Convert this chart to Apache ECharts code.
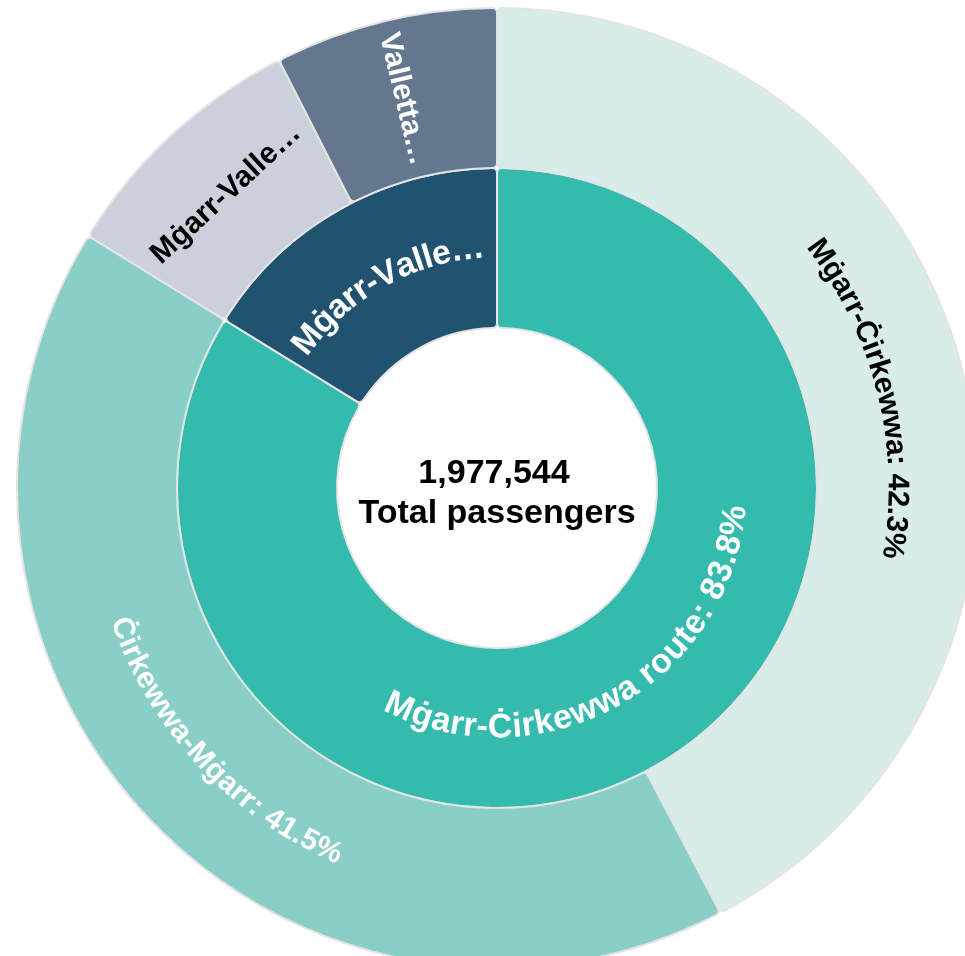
<!DOCTYPE html>
<html>
<head>
<meta charset="utf-8">
<script src="https://cdn.jsdelivr.net/npm/echarts@6/dist/echarts.min.js"></script>
<style>
html,body{margin:0;padding:0;background:#fff;}
#chart{width:965px;height:956px;}
</style>
</head>
<body>
<div id="chart"></div>
<script>
// ---- data ----
const routes = ['Mġarr-Ċirkewwa route', 'Mġarr-Valletta route'];
const routeColors = ['#35bbad', '#215270'];
const routeLabelColors = ['#ffffff', '#ffffff'];
const routeLabelMode = ['circular', 'circular'];
const routeShortLabel = [null, 'Mġarr-Valle…'];

const legs = ['Mġarr-Ċirkewwa', 'Ċirkewwa-Mġarr', 'Mġarr-Valletta', 'Valletta-Mġarr'];
const legRoute = [0, 0, 1, 1];
const legPassengers = [836501, 820681, 172046, 148316];
const legColors = ['#d8ecea', '#8acfc7', '#cbd0da', '#63778f'];
const legLabelColors = ['#000000', '#ffffff', '#000000', '#ffffff'];
const legLabelMode = ['circular', 'circular', 'perpendicular', 'parallel'];
const legShortLabel = [null, null, 'Mġarr-Valle…', 'Valletta…'];

const centerTitle = ['1,977,544', 'Total passengers'];

// ---- layout constants ----
const CX = 497, CY = 488;
const RINGS = [[160, 320], [320, 480]];
const FAMILY = '"Liberation Sans", Arial, sans-serif';
const RING_FONTS = ['bold 34px ' + FAMILY, 'bold 30px ' + FAMILY];
const CFONT = 'bold 34px ' + FAMILY;

const total = legPassengers.reduce((a, b) => a + b, 0);
const routeTotals = routes.map((r, i) =>
  legPassengers.reduce((s, v, j) => s + (legRoute[j] === i ? v : 0), 0));

const seriesData = routes.map((r, i) => ({
  name: r,
  itemStyle: { color: routeColors[i] },
  children: legs.map((l, j) => ({ l, j })).filter(o => legRoute[o.j] === i).map(o => ({
    name: o.l,
    value: legPassengers[o.j],
    itemStyle: { color: legColors[o.j] }
  }))
}));

// ---- text helpers ----
const ctx = document.createElement('canvas').getContext('2d');
function w(s, font) { ctx.font = font; return ctx.measureText(s).width; }
function pct(v) { return (v / total * 100).toFixed(1) + '%'; }

const graphics = [];
function txtEl(x, y, rot, text, color, font) {
  return {
    type: 'text', silent: true, z: 100, zlevel: 1,
    x: x, y: y, rotation: rot,
    style: { text: text, fill: color, font: font, align: 'center', verticalAlign: 'middle' }
  };
}
function addCircular(text, thetaMid, R, color, font) {
  const outward = Math.cos(thetaMid) > 0;
  const chars = Array.from(text);
  const widths = chars.map(c => w(c, font));
  const W = widths.reduce((a, b) => a + b, 0);
  let off = -W / 2;
  chars.forEach((ch, k) => {
    const s = off + widths[k] / 2;
    off += widths[k];
    const th = outward ? thetaMid + s / R : thetaMid - s / R;
    graphics.push(txtEl(CX + R * Math.sin(th), CY - R * Math.cos(th),
      outward ? -th : Math.PI - th, ch, color, font));
  });
}
function addStraight(text, thetaMid, R, color, mode, font) {
  let rot;
  if (mode === 'perpendicular') {
    rot = Math.cos(thetaMid) > 0 ? -thetaMid : Math.PI - thetaMid;
  } else {
    rot = 1.5 * Math.PI - thetaMid;
  }
  graphics.push(txtEl(CX + R * Math.sin(thetaMid), CY - R * Math.cos(thetaMid),
    rot, text, color, font));
}
function addLabel(text, mode, a0, a1, ring, color) {
  const mid = (a0 + a1) / 2;
  const R = (RINGS[ring][0] + RINGS[ring][1]) / 2;
  const font = RING_FONTS[ring];
  if (mode === 'circular') addCircular(text, mid, R, color, font);
  else addStraight(text, mid, R, color, mode, font);
}

// angles (clockwise from 12 o'clock) from the data
let acc = 0;
routes.forEach((r, i) => {
  const a0 = acc / total * 2 * Math.PI;
  const a1 = (acc + routeTotals[i]) / total * 2 * Math.PI;
  const txt = routeShortLabel[i] || (r + ': ' + pct(routeTotals[i]));
  addLabel(txt, routeLabelMode[i], a0, a1, 0, routeLabelColors[i]);
  let acc2 = acc;
  legs.forEach((l, j) => {
    if (legRoute[j] !== i) return;
    const b0 = acc2 / total * 2 * Math.PI;
    const b1 = (acc2 + legPassengers[j]) / total * 2 * Math.PI;
    const t2 = legShortLabel[j] || (l + ': ' + pct(legPassengers[j]));
    addLabel(t2, legLabelMode[j], b0, b1, 1, legLabelColors[j]);
    acc2 += legPassengers[j];
  });
  acc += routeTotals[i];
});

graphics.push(txtEl(CX - 3, CY - 14, 0, centerTitle[0], '#000', CFONT));
graphics.push(txtEl(CX, CY + 26, 0, centerTitle[1], '#000', CFONT));

const chart = echarts.init(document.getElementById('chart'));
chart.setOption({
  animation: false,
  series: [{
    type: 'sunburst',
    center: [CX, CY],
    sort: null,
    startAngle: 90,
    nodeClick: false,
    emphasis: { disabled: true },
    data: seriesData,
    label: { show: false },
    itemStyle: { borderColor: '#e4e4e4', borderWidth: 2, borderRadius: 5 },
    levels: [
      {},
      { r0: RINGS[0][0], r: RINGS[0][1] },
      { r0: RINGS[1][0], r: RINGS[1][1] }
    ]
  }],
  graphic: { elements: graphics }
});
</script>
</body>
</html>
